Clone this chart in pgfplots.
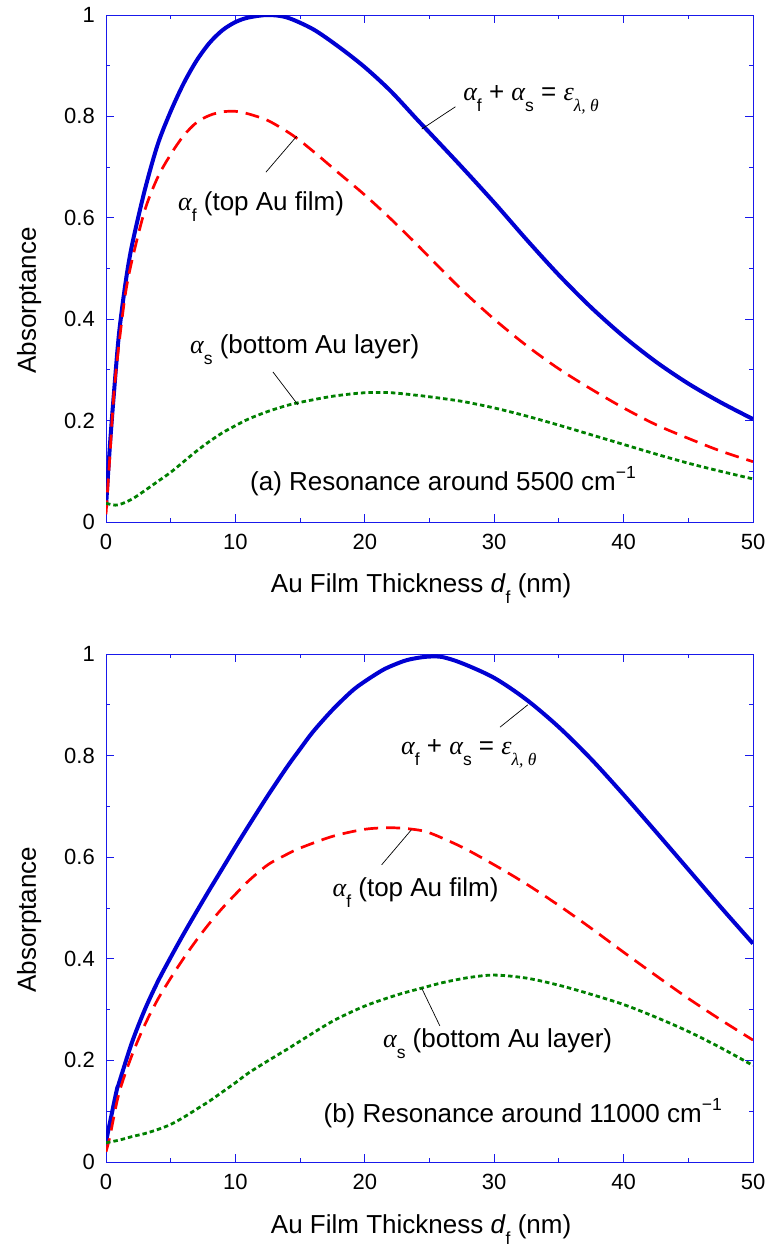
\documentclass[border=0pt]{standalone}
\usepackage{fontspec}
\usepackage{pgfplots}
\pgfplotsset{compat=1.18}
\setmainfont{Liberation Sans}
\newfontfamily\grk{Liberation Serif}
\definecolor{axblue}{RGB}{25,25,235}
\definecolor{cblue}{RGB}{0,0,210}
\definecolor{cred}{RGB}{255,0,0}
\definecolor{cgreen}{RGB}{0,128,0}
\newcommand\txt{\fontsize{26}{31}\selectfont}
\newcommand\tck{\fontsize{22}{26}\selectfont}
\newcommand\sbs[1]{\raisebox{-11pt}{\fontsize{17.5}{17.5}\selectfont #1}}
\newcommand\gsbs[1]{\raisebox{-11pt}{\fontsize{17.5}{17.5}\selectfont\grk\itshape #1}}
\newcommand\al{{\grk\itshape α}}
\newcommand\sumlabel{\al\sbs{f} + \al\sbs{s} = {\grk\itshape ε}\gsbs{λ, θ}}
\pgfplotsset{myax/.style={
  scale only axis, width=647pt, height=507pt,
  xmin=0, xmax=50, ymin=0, ymax=1,
  xtick={0,10,20,30,40,50}, ytick={0,0.2,0.4,0.6,0.8,1},
  minor x tick num=1, minor y tick num=1,
  tick align=inside, major tick length=8pt, minor tick length=4pt,
  axis line style={draw=axblue, line width=1pt},
  every tick/.append style={draw=axblue, line width=0.9pt},
  /pgf/number format/assume math mode=true,
  tick label style={font=\tck, text=black},
  yticklabel style={inner sep=0pt, xshift=-11pt},
  xticklabel style={inner sep=0pt, yshift=-12pt},
  xlabel={Au Film Thickness \textit{d}\sbs{f} (nm)},
  ylabel={Absorptance},
  label style={font=\txt},
  xlabel style={at={(axis description cs:0.487,-0.14)}, anchor=base, inner sep=0pt},
  clip=true,
}}
\tikzset{bl/.style={cblue, line width=4pt},
  rd/.style={cred, line width=2.7pt, dash pattern=on 14pt off 8pt},
  gr/.style={cgreen, line width=2.8pt, dash pattern=on 4.5pt off 3pt},
  ld/.style={black, line width=0.7pt},
  lab/.style={anchor=base west, inner sep=0pt, font=\txt}}
\begin{document}
\begin{tikzpicture}
\useasboundingbox (0,0) rectangle (770pt,-1247pt);
% ---------------- (a)
\begin{axis}[myax, at={(106pt,-522pt)}, anchor=south west,
  ylabel style={at={(axis description cs:-0.1082,0.437)}, anchor=base, inner sep=0pt}]
\addplot[bl, smooth, tension=0.5] coordinates {
(0,0.03) (0.3,0.15) (0.6,0.25) (1,0.37) (1.5,0.47) (2,0.545) (3,0.655) (4,0.745) (5,0.81) (6,0.865) (7,0.91) (8,0.945) (9,0.97) (10,0.986) (11,0.995) (12.5,1.0) (14,0.995) (16,0.972) (18,0.937) (20,0.897) (22,0.85) (24,0.795) (25,0.768) (27.5,0.70) (30,0.63) (32.5,0.557) (35,0.487) (37.5,0.423) (40,0.366) (42.5,0.316) (45,0.273) (47.5,0.236) (50,0.203)};
\addplot[rd, smooth, tension=0.5] coordinates {
(0,0.015) (0.3,0.13) (0.6,0.25) (1,0.35) (1.5,0.45) (2,0.515) (3,0.615) (4,0.68) (5,0.725) (6,0.762) (7,0.788) (8,0.802) (9,0.809) (10,0.81) (11,0.805) (12.5,0.792) (14,0.77) (15,0.752) (16.3,0.725) (18,0.688) (20,0.645) (22,0.598) (24,0.548) (25,0.522) (27.5,0.458) (30,0.4) (32.5,0.348) (35,0.302) (37.5,0.262) (40,0.225) (42.5,0.192) (45,0.165) (47.5,0.14) (50,0.119)};
\addplot[gr, smooth, tension=0.5] coordinates {
(0,0.037) (0.5,0.034) (1,0.034) (2,0.045) (3,0.062) (4,0.08) (5,0.098) (6,0.119) (7,0.14) (8,0.159) (9,0.176) (10,0.19) (11,0.203) (12.5,0.218) (14,0.23) (15,0.236) (17.5,0.248) (20,0.255) (22,0.255) (24,0.25) (25,0.247) (27.5,0.238) (30,0.225) (32.5,0.209) (35,0.191) (37.5,0.172) (40,0.153) (42.5,0.134) (45,0.116) (47.5,0.1) (50,0.085)};
\draw[ld] (axis cs:24.4,0.775) -- (axis cs:27.0,0.819);
\draw[ld] (axis cs:12.36,0.690) -- (axis cs:14.74,0.761);
\draw[ld] (axis cs:12.9,0.296) -- (axis cs:14.84,0.231);
\node[lab] at (axis cs:27.6,0.832) {\sumlabel};
\node[lab] at (axis cs:5.56,0.615) {\al\sbs{f} (top Au film)};
\node[lab] at (axis cs:6.49,0.333) {\al\sbs{s} (bottom Au layer)};
\node[lab] at (axis cs:11.13,0.063) {(a) Resonance around 5500 cm\raisebox{12pt}{\fontsize{17.5}{17.5}\selectfont −1}};
\end{axis}
% ---------------- (b)
\begin{axis}[myax, at={(106pt,-1162pt)}, anchor=south west, height=508pt,
  ylabel style={at={(axis description cs:-0.1082,0.477)}, anchor=base, inner sep=0pt}]
\addplot[bl, smooth, tension=0.5] coordinates {
(0,0.04) (0.8,0.138) (1,0.155) (2,0.235) (3,0.3) (4,0.355) (5,0.403) (6,0.449) (7,0.493) (8,0.536) (9,0.578) (10,0.62) (11,0.661) (12.5,0.721) (14,0.778) (15,0.813) (16,0.847) (17.5,0.89) (19,0.927) (20,0.946) (21.5,0.97) (23,0.986) (24,0.992) (25,0.995) (26,0.994) (27.5,0.982) (30,0.953) (32.5,0.91) (35,0.856) (37.5,0.793) (40,0.723) (42.5,0.65) (45,0.576) (47.5,0.502) (50,0.43)};
\addplot[rd, smooth, tension=0.5] coordinates {
(0,0.02) (0.3,0.05) (1,0.135) (2,0.21) (3,0.27) (4,0.32) (5,0.362) (6,0.401) (7,0.437) (8,0.47) (9,0.5) (10,0.527) (11,0.553) (12.5,0.585) (14,0.606) (15,0.618) (17.5,0.641) (20,0.655) (22,0.658) (23.7,0.655) (25,0.648) (27.5,0.62) (30,0.585) (32.5,0.547) (35,0.505) (37.5,0.46) (40,0.413) (42.5,0.367) (45,0.322) (47.5,0.28) (50,0.24)};
\addplot[gr, smooth, tension=0.5] coordinates {
(0,0.038) (1,0.043) (2,0.05) (3,0.056) (4,0.064) (5,0.074) (6,0.088) (7,0.104) (8,0.12) (9,0.138) (10,0.156) (11,0.175) (12.5,0.199) (14,0.222) (15,0.238) (17.5,0.277) (20,0.307) (22.5,0.329) (24.5,0.343) (26,0.353) (28,0.363) (30,0.368) (32.5,0.362) (35,0.348) (37.5,0.33) (40,0.31) (42.5,0.285) (45,0.257) (47.5,0.225) (50,0.19)};
\draw[ld] (axis cs:30.45,0.856) -- (axis cs:32.6,0.9);
\draw[ld] (axis cs:21.3,0.585) -- (axis cs:23.6,0.654);
\draw[ld] (axis cs:25.8,0.268) -- (axis cs:24.4,0.342);
\node[lab] at (axis cs:22.8,0.803) {\sumlabel};
\node[lab] at (axis cs:17.5,0.522) {\al\sbs{f} (top Au film)};
\node[lab] at (axis cs:21.4,0.226) {\al\sbs{s} (bottom Au layer)};
\node[lab] at (axis cs:16.8,0.077) {(b) Resonance around 11000 cm\raisebox{12pt}{\fontsize{17.5}{17.5}\selectfont −1}};
\end{axis}
\end{tikzpicture}
\end{document}
